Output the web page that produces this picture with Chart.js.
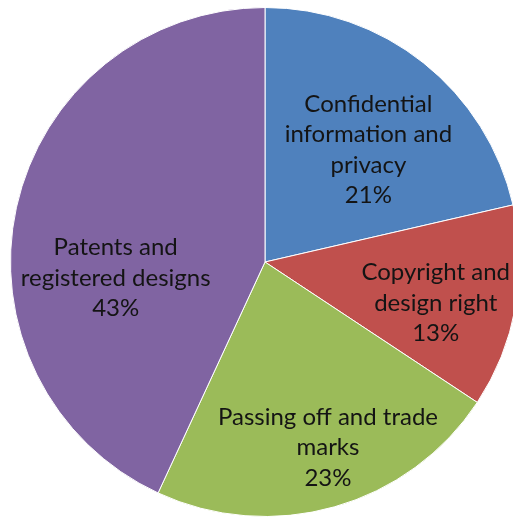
<!DOCTYPE html>
<html>
<head>
<meta charset="utf-8">
<script src="https://cdn.jsdelivr.net/npm/chart.js@4/dist/chart.umd.min.js"></script>
<style>
  html, body { margin: 0; padding: 0; background: #fff; overflow: hidden; }
  #wrap { width: 530px; height: 520px; }
</style>
</head>
<body>
<div id="wrap"><canvas id="pie" width="530" height="520"></canvas></div>
<script>
// slice data, clockwise from 12 o'clock
const categories = [
  ["Confidential", "information and", "privacy"],
  ["Copyright and", "design right"],
  ["Passing off and trade", "marks"],
  ["Patents and", "registered designs"]
];
const shares = [21.4, 12.9, 22.6, 43.1];
const sliceColors = ["#4F81BD", "#C0504D", "#9BBB59", "#8064A2"];

// where each label sits inside its slice: fraction of radius, shift from mid angle (deg)
const labelPlacement = [
  { r: 0.60, shift: 4.1 },
  { r: 0.69, shift: 3.3 },
  { r: 0.77, shift: -2.9 },
  { r: 0.59, shift: -18.5 }
];

const sliceLabels = {
  id: "sliceLabels",
  afterDatasetsDraw(chart) {
    const ctx = chart.ctx;
    const meta = chart.getDatasetMeta(0);
    const total = shares.reduce((a, b) => a + b, 0);
    ctx.save();
    ctx.font = "24px Lato";
    ctx.fillStyle = "#141414";
    ctx.textAlign = "center";
    ctx.textBaseline = "middle";
    meta.data.forEach((arc, i) => {
      const p = arc.getProps(["x", "y", "startAngle", "endAngle", "outerRadius"], true);
      const mid = (p.startAngle + p.endAngle) / 2 + labelPlacement[i].shift * Math.PI / 180;
      const rad = p.outerRadius * labelPlacement[i].r;
      const cx = p.x + Math.cos(mid) * rad;
      const cy = p.y + Math.sin(mid) * rad;
      const lines = categories[i].concat([Math.round(shares[i] / total * 100) + "%"]);
      const lh = 30.5;
      const top = cy - (lines.length - 1) * lh / 2;
      lines.forEach((t, j) => ctx.fillText(t, cx, top + j * lh));
    });
    ctx.restore();
  }
};

new Chart(document.getElementById("pie"), {
  type: "pie",
  data: {
    labels: categories.map(c => c.join(" ")),
    datasets: [{
      data: shares,
      backgroundColor: sliceColors,
      borderColor: "#ffffff",
      borderWidth: 1
    }]
  },
  options: {
    responsive: false,
    animation: false,
    layout: { padding: { top: 7, bottom: 3, left: 10, right: 10 } },
    plugins: {
      legend: { display: false },
      tooltip: { enabled: false }
    }
  },
  plugins: [sliceLabels]
});
</script>
</body>
</html>
